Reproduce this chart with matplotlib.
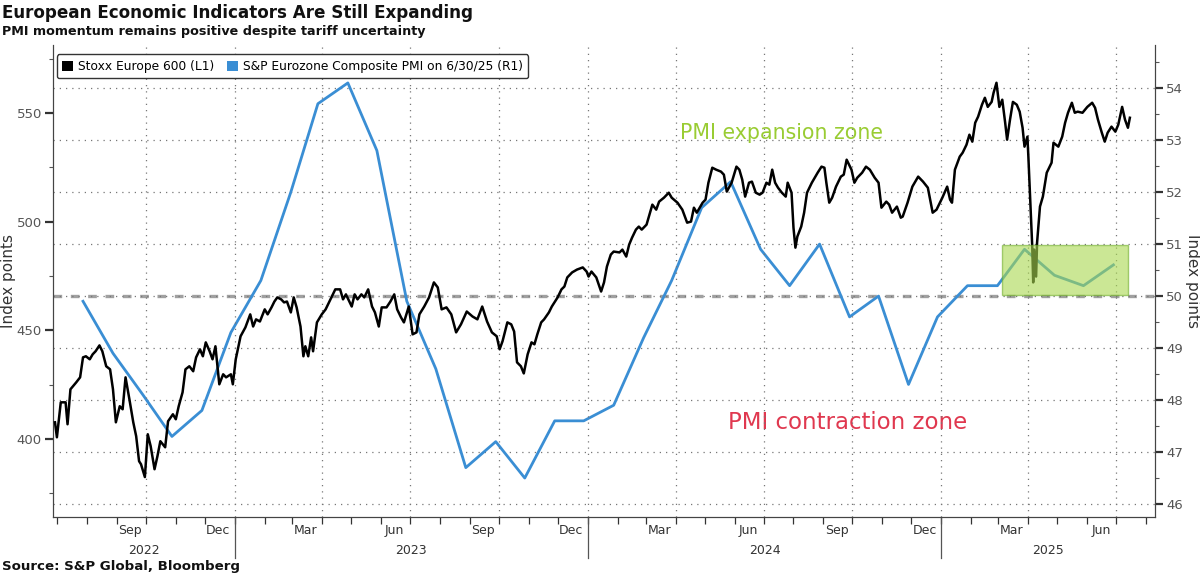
import matplotlib
matplotlib.use("Agg")
import matplotlib.pyplot as plt
import matplotlib.transforms as mtransforms
from matplotlib.lines import Line2D
from matplotlib.patches import Patch, Rectangle
from matplotlib.ticker import MultipleLocator, NullFormatter
import pandas as pd

# Stoxx Europe 600 (left axis)
stoxx_dates = [
    "2022-06-29", "2022-07-01", "2022-07-05", "2022-07-10", "2022-07-12", "2022-07-15", "2022-07-21",
    "2022-07-25", "2022-07-28", "2022-07-31", "2022-08-04", "2022-08-07", "2022-08-10", "2022-08-14",
    "2022-08-17", "2022-08-21", "2022-08-25", "2022-08-28", "2022-08-31", "2022-09-04", "2022-09-07",
    "2022-09-10", "2022-09-14", "2022-09-18", "2022-09-21", "2022-09-24", "2022-09-26", "2022-09-30",
    "2022-10-03", "2022-10-06", "2022-10-10", "2022-10-13", "2022-10-16", "2022-10-21", "2022-10-24",
    "2022-10-29", "2022-11-01", "2022-11-04", "2022-11-08", "2022-11-11", "2022-11-15", "2022-11-19",
    "2022-11-22", "2022-11-26", "2022-11-29", "2022-12-02", "2022-12-06", "2022-12-09", "2022-12-12",
    "2022-12-16", "2022-12-20", "2022-12-23", "2022-12-28", "2022-12-30",
    "2023-01-02", "2023-01-07", "2023-01-12", "2023-01-17", "2023-01-20", "2023-01-23", "2023-01-27",
    "2023-02-01", "2023-02-04", "2023-02-08", "2023-02-11", "2023-02-14", "2023-02-18", "2023-02-21",
    "2023-02-24", "2023-02-28", "2023-03-03", "2023-03-06", "2023-03-10", "2023-03-13", "2023-03-15",
    "2023-03-18", "2023-03-21", "2023-03-23", "2023-03-27", "2023-04-01", "2023-04-05", "2023-04-10",
    "2023-04-15", "2023-04-20", "2023-04-23", "2023-04-26", "2023-05-02", "2023-05-05", "2023-05-08",
    "2023-05-12", "2023-05-15", "2023-05-19", "2023-05-23", "2023-05-26", "2023-05-30", "2023-06-02",
    "2023-06-07", "2023-06-11", "2023-06-15", "2023-06-18", "2023-06-22", "2023-06-25", "2023-06-30",
    "2023-07-04", "2023-07-08", "2023-07-11", "2023-07-16", "2023-07-21", "2023-07-26", "2023-07-30",
    "2023-08-03", "2023-08-08", "2023-08-13", "2023-08-18", "2023-08-23", "2023-08-29", "2023-09-04",
    "2023-09-09", "2023-09-14", "2023-09-19", "2023-09-24", "2023-09-29", "2023-10-02", "2023-10-05",
    "2023-10-10", "2023-10-14", "2023-10-17", "2023-10-20", "2023-10-24", "2023-10-27", "2023-10-31",
    "2023-11-04", "2023-11-07", "2023-11-10", "2023-11-14", "2023-11-17", "2023-11-22", "2023-11-25",
    "2023-12-01", "2023-12-05", "2023-12-08", "2023-12-11", "2023-12-16", "2023-12-21", "2023-12-27",
    "2023-12-31",
    "2024-01-02", "2024-01-05", "2024-01-10", "2024-01-15", "2024-01-18", "2024-01-21", "2024-01-25",
    "2024-01-28", "2024-02-03", "2024-02-06", "2024-02-10", "2024-02-13", "2024-02-16", "2024-02-20",
    "2024-02-23", "2024-02-26", "2024-03-02", "2024-03-05", "2024-03-08", "2024-03-12", "2024-03-15",
    "2024-03-20", "2024-03-25", "2024-03-28", "2024-04-03", "2024-04-08", "2024-04-13", "2024-04-17",
    "2024-04-20", "2024-04-23", "2024-04-29", "2024-05-02", "2024-05-05", "2024-05-09", "2024-05-13",
    "2024-05-18", "2024-05-21", "2024-05-24", "2024-05-29", "2024-06-03", "2024-06-06", "2024-06-09",
    "2024-06-12", "2024-06-16", "2024-06-19", "2024-06-23", "2024-06-27", "2024-06-30", "2024-07-04",
    "2024-07-07", "2024-07-10", "2024-07-13", "2024-07-16", "2024-07-20", "2024-07-24", "2024-07-26",
    "2024-07-30", "2024-08-01", "2024-08-03", "2024-08-05", "2024-08-09", "2024-08-12", "2024-08-15",
    "2024-08-20", "2024-08-26", "2024-08-30", "2024-09-02", "2024-09-04", "2024-09-07", "2024-09-10",
    "2024-09-14", "2024-09-19", "2024-09-22", "2024-09-25", "2024-09-30", "2024-10-03", "2024-10-06",
    "2024-10-11", "2024-10-15", "2024-10-19", "2024-10-24", "2024-10-28", "2024-10-31", "2024-11-05",
    "2024-11-08", "2024-11-11", "2024-11-16", "2024-11-20", "2024-11-22", "2024-11-27", "2024-12-02",
    "2024-12-08", "2024-12-13", "2024-12-18", "2024-12-23", "2024-12-27",
    "2025-01-02", "2025-01-07", "2025-01-10", "2025-01-12", "2025-01-15", "2025-01-20", "2025-01-23",
    "2025-01-27", "2025-01-30", "2025-02-02", "2025-02-05", "2025-02-08", "2025-02-12", "2025-02-15",
    "2025-02-18", "2025-02-22", "2025-02-24", "2025-02-27", "2025-03-02", "2025-03-05", "2025-03-08",
    "2025-03-10", "2025-03-13", "2025-03-16", "2025-03-20", "2025-03-23", "2025-03-26", "2025-03-28",
    "2025-03-31", "2025-04-01", "2025-04-03", "2025-04-05", "2025-04-06", "2025-04-07", "2025-04-09",
    "2025-04-10", "2025-04-13", "2025-04-16", "2025-04-20", "2025-04-25", "2025-04-27", "2025-05-02",
    "2025-05-06", "2025-05-09", "2025-05-12", "2025-05-16", "2025-05-19", "2025-05-22", "2025-05-27",
    "2025-06-01", "2025-06-06", "2025-06-09", "2025-06-12", "2025-06-16", "2025-06-19", "2025-06-22",
    "2025-06-26", "2025-06-30", "2025-07-03", "2025-07-07", "2025-07-10", "2025-07-13", "2025-07-15",
]
stoxx_values = [
    407.6, 400.7, 416.8, 416.8, 406.7, 422.8, 426.0, 428.3, 437.5, 438.0, 436.6, 438.9, 440.3, 443.0,
    440.3, 433.4, 432.0, 422.8, 407.6, 415.0, 413.6, 428.3, 418.2, 407.6, 401.2, 389.7, 388.3, 382.4,
    402.1, 396.6, 386.0, 392.0, 398.9, 396.1, 408.1, 411.3, 409.0, 415.0, 421.4, 432.0, 433.4, 431.1,
    437.5, 441.2, 438.0, 444.4, 440.3, 436.6, 442.6, 425.1, 429.7, 428.3, 429.7, 425.1,
    436.6, 447.2, 451.3, 457.3, 451.7, 455.0, 454.0, 459.6, 457.3, 460.5, 463.2, 465.1, 464.2, 462.8,
    463.2, 458.2, 465.1, 460.5, 451.7, 438.0, 442.6, 438.0, 446.7, 440.3, 453.6, 457.3, 459.6, 464.2,
    468.8, 468.8, 464.2, 466.5, 460.9, 466.5, 464.2, 466.5, 465.1, 468.8, 460.9, 458.2, 451.7, 460.5,
    460.5, 463.2, 466.5, 459.6, 455.9, 453.6, 460.9, 448.1, 449.0, 457.3, 460.9, 465.1, 472.0, 469.7,
    459.6, 460.5, 457.3, 449.0, 452.7, 458.6, 456.3, 455.0, 460.9, 454.0, 449.0, 447.2, 441.2, 444.9,
    453.6, 452.7, 449.4, 435.2, 433.4, 430.1, 438.9, 444.4, 443.5, 448.1, 453.6, 455.0, 458.2, 460.9,
    465.1, 468.8, 470.1, 474.3, 476.6, 477.9, 478.9, 477.0,
    474.7, 477.0, 474.3, 467.8, 472.0, 479.3, 484.8, 486.2, 485.8, 487.1, 483.9, 489.4, 492.6, 496.3,
    497.7, 496.3, 498.6, 503.2, 507.8, 505.5, 509.2, 511.0, 513.3, 511.0, 508.7, 505.5, 499.5, 500.0,
    506.4, 504.1, 508.7, 510.1, 517.9, 524.8, 523.9, 523.0, 521.6, 513.8, 517.9, 525.3, 523.9, 519.3,
    511.5, 517.9, 518.4, 513.3, 512.4, 513.3, 517.9, 517.0, 523.9, 517.9, 515.6, 513.3, 511.5, 517.9,
    513.3, 497.2, 488.0, 493.1, 497.7, 504.1, 513.3, 517.9, 522.5, 525.3, 524.8, 517.9, 508.7, 511.0,
    516.1, 520.7, 521.6, 528.5, 523.9, 517.9, 520.2, 522.5, 525.3, 523.9, 520.2, 517.9, 506.4, 509.2,
    507.8, 504.1, 506.9, 501.8, 502.3, 508.7, 516.1, 520.7, 518.4, 515.6, 504.1, 505.5,
    511.0, 516.1, 510.1, 508.7, 523.9, 529.9, 531.7, 535.4, 540.0, 536.8, 545.5, 548.3, 553.8, 557.0,
    552.8, 555.1, 559.3, 563.9, 552.8, 556.1, 545.5, 537.7, 546.9, 555.1, 553.8, 550.6, 543.2, 534.5,
    539.1, 529.9, 508.7, 488.5, 472.0, 487.1, 474.7, 490.3, 506.9, 511.5, 522.5, 527.1, 536.3, 534.5,
    539.1, 545.5, 550.1, 554.7, 550.1, 550.6, 550.1, 552.8, 554.7, 552.4, 546.9, 540.9, 536.8, 540.9,
    543.7, 541.4, 544.6, 552.8, 546.9, 543.2, 547.8,
]

# S&P Eurozone Composite PMI (right axis), Jul 2022 - Jun 2025
pmi_months = pd.date_range("2022-07-01", "2025-06-01", freq="MS") + pd.Timedelta(days=27)
pmi_values = [
    49.9, 48.9, 48.1, 47.3, 47.8, 49.3,
    50.3, 52.0, 53.7, 54.1, 52.8, 49.9, 48.6, 46.7, 47.2, 46.5, 47.6, 47.6,
    47.9, 49.2, 50.3, 51.7, 52.2, 50.9, 50.2, 51.0, 49.6, 50.0, 48.3, 49.6,
    50.2, 50.2, 50.9, 50.4, 50.2, 50.6,
]

quarter_labels = ["Sep", "Dec", "Mar", "Jun", "Sep", "Dec", "Mar", "Jun", "Sep", "Dec", "Mar", "Jun"]
quarter_label_dates = ["2022-09-15", "2022-12-15", "2023-03-15", "2023-06-15", "2023-09-15", "2023-12-15",
                       "2024-03-15", "2024-06-15", "2024-09-15", "2024-12-15", "2025-03-15", "2025-06-15"]
year_labels = ["2022", "2023", "2024", "2025"]
year_bounds = ["2022-06-27", "2023-01-01", "2024-01-01", "2025-01-01", "2025-08-10"]

BLUE = "#3a8ed4"
GREY_TXT = "#555555"

fig = plt.figure(figsize=(12, 5.76), dpi=100)
ax = fig.add_axes([0.0442, 0.1024, 0.9183, 0.8195])
ax2 = ax.twinx()
ax.set_zorder(ax2.get_zorder() + 1)
ax.patch.set_visible(False)

x0, x1 = pd.Timestamp(year_bounds[0]), pd.Timestamp(year_bounds[-1])
ax.set_xlim(x0, x1)
ax.set_ylim(364, 581.3)
ax2.set_ylim(45.75, 54.83)

# grids
ax2.yaxis.set_major_locator(MultipleLocator(1))
ax2.yaxis.set_minor_locator(MultipleLocator(0.5))
ax2.grid(axis="y", which="major", color="#777777", linestyle=(0, (1, 4)), linewidth=0.9)
quarter_starts = pd.date_range("2022-10-01", "2025-07-01", freq="QS")
month_starts = pd.date_range("2022-07-01", "2025-08-01", freq="MS")
ax.set_xticks(quarter_starts)
ax.set_xticks(month_starts, minor=True)
ax.xaxis.set_major_formatter(NullFormatter())
ax.grid(axis="x", which="major", color="#777777", linestyle=(0, (1, 4)), linewidth=0.9)
ax.set_axisbelow(True)

ax2.axhline(50, color="#a0a0a0", linewidth=2.4, linestyle=(0, (2.6, 2.6)), zorder=1)

ax2.plot(pmi_months, pmi_values, color=BLUE, linewidth=2.0, zorder=3)
ax.plot(pd.to_datetime(stoxx_dates), stoxx_values, color="black", linewidth=1.8, zorder=4)

# highlight box over the latest PMI readings
box_start, box_end = pd.Timestamp("2025-03-05"), pd.Timestamp("2025-07-13")
ax.add_patch(Rectangle((box_start, 50.02), box_end - box_start, 0.96, transform=ax2.transData,
                       facecolor="#a9d84f", edgecolor="#6fae2a", linewidth=1.0, alpha=0.6, zorder=6))

ax2.text(pd.Timestamp("2024-07-20"), 53.14, "PMI expansion zone", color="#99cc33", fontsize=14.8,
         ha="center", va="center")
ax2.text(pd.Timestamp("2024-09-26"), 47.57, "PMI contraction zone", color="#e0384f", fontsize=16.5,
         ha="center", va="center")

# axes styling
for a in (ax, ax2):
    a.spines["top"].set_visible(False)
    for s in ("left", "right", "bottom"):
        a.spines[s].set_color("#444444")
ax.yaxis.set_major_locator(MultipleLocator(50))
ax.yaxis.set_minor_locator(MultipleLocator(25))
ax.tick_params(axis="y", which="major", length=6, width=1.6, color="#333333", labelsize=9.5,
               labelcolor=GREY_TXT, pad=2)
ax.tick_params(axis="y", which="minor", length=3, width=0.8, color="#555555")
ax2.tick_params(axis="y", which="major", length=6, width=1.6, color="#333333", labelsize=9.5,
                labelcolor=GREY_TXT, pad=2)
ax2.tick_params(axis="y", which="minor", length=3, width=0.8, color="#555555")
ax.tick_params(axis="x", which="both", length=5, width=0.9, color="#333333")

ax.set_ylabel("Index points", fontsize=11, color="#333333")
ax.yaxis.set_label_coords(-0.034, 0.5)
ax2.set_ylabel("Index points", fontsize=11, color="#333333", rotation=270, va="center")
ax2.yaxis.set_label_coords(1.034, 0.5)

# quarter and year labels under the axis
trans = mtransforms.blended_transform_factory(ax.transData, ax.transAxes)
for lab, d in zip(quarter_labels, quarter_label_dates):
    ax.text(pd.Timestamp(d), -0.014, lab, transform=trans, ha="center", va="top",
            fontsize=9, color="#333333")
for i, lab in enumerate(year_labels):
    a0, a1 = pd.Timestamp(year_bounds[i]), pd.Timestamp(year_bounds[i + 1])
    ax.text(a0 + (a1 - a0) / 2, -0.058, lab, transform=trans, ha="center", va="top",
            fontsize=9, color="#333333")
for d in year_bounds[1:-1]:
    ax.add_line(Line2D([pd.Timestamp(d)] * 2, [0, -0.087], transform=trans, color="#555555",
                       linewidth=0.9, clip_on=False))

handles = [Patch(facecolor="black"), Patch(facecolor=BLUE)]
ax.legend(handles, ["Stoxx Europe 600 (L1)", "S&P Eurozone Composite PMI on 6/30/25 (R1)"],
          loc="upper left", bbox_to_anchor=(-0.002, 0.993), ncol=2, fontsize=8.8, frameon=True,
          edgecolor="#333333", fancybox=True, handlelength=0.9, handleheight=0.9,
          handletextpad=0.4, columnspacing=1.0, borderpad=0.45, framealpha=1)

fig.text(0.002, 0.977, "European Economic Indicators Are Still Expanding", fontsize=12.1,
         fontweight="bold", va="center", ha="left", color="#111111")
fig.text(0.002, 0.946, "PMI momentum remains positive despite tariff uncertainty", fontsize=9.2,
         fontweight="bold", va="center", ha="left", color="#111111")
fig.text(0.002, 0.017, "Source: S&P Global, Bloomberg", fontsize=9.6, fontweight="bold",
         va="center", ha="left", color="#111111")

fig.savefig("out.png", dpi=100)
plt.close(fig)
